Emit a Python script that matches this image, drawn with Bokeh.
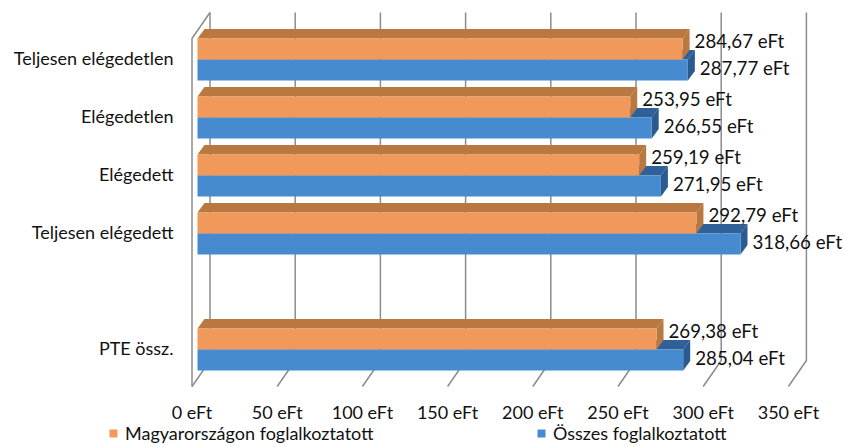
import math
from bokeh.plotting import figure
from bokeh.models import Range1d, Legend, LegendItem, ColumnDataSource
from bokeh.core.properties import value
from bokeh.embed import file_html
from bokeh.resources import INLINE

# ---------------- data ----------------
categories = ["Teljesen elégedetlen", "Elégedetlen", "Elégedett", "Teljesen elégedett", "", "PTE össz."]
magyar = [284.67, 253.95, 259.19, 292.79, None, 269.38]
osszes = [287.77, 266.55, 271.95, 318.66, None, 285.04]
series_names = ["Magyarországon foglalkoztatott", "Összes foglalkoztatott"]
tick_values = [0, 50, 100, 150, 200, 250, 300, 350]
tick_labels = ["0 eFt", "50 eFt", "100 eFt", "150 eFt", "200 eFt", "250 eFt", "300 eFt", "350 eFt"]

def fmt(v):
    return ("%.2f" % v).replace(".", ",") + " eFt"

# ---------------- styling / geometry ----------------
W, H = 845, 447
KX = 1.704            # pixels per value unit
KY = 58.0             # pixels per category slot
X0 = -197 / KX
Y1 = 59 / KY
PX = 1 / KX
PY = 1 / KY
FONT = "Lato"
ORANGE = "#F0995A"
ORANGE_DARK = "#B8783F"
BLUE = "#468BD0"
BLUE_TOP = "#2F609A"
BLUE_SIDE = "#2B5A90"
GRID = "#8C8C8C"
TEXT = "#111111"

def pyu(page_y):
    return Y1 - page_y * PY

p = figure(width=W, height=H, output_backend="svg", toolbar_location=None,
           x_range=Range1d(X0, X0 + W / KX), y_range=Range1d(Y1 - H / KY, Y1),
           min_border=0, min_border_left=0, min_border_right=0,
           min_border_top=0, min_border_bottom=0)
p.axis.visible = False
p.grid.visible = False
p.outline_line_color = None
p.background_fill_color = "white"

# back wall grid lines + floor lines
back_off = 12.5 * PX
floor_off = -18 * PX
gx, gy = [], []
for v in tick_values:
    gx.append([v + back_off, v + back_off, v + back_off + floor_off])
    gy.append([pyu(12), pyu(360), pyu(386)])
# left wall edge
gx.append([back_off + floor_off, back_off + floor_off, back_off])
gy.append([pyu(386), pyu(38), pyu(12)])
p.multi_line(gx, gy, line_color=GRID, line_width=1.5)

# bars (3D)
dx = 7 * PX
dy = 9.5 * PY
h = 21 * PY

def faces(vals, sign):
    front = dict(l=[], r=[], b=[], t=[])
    top_x, top_y, side_x, side_y = [], [], [], []
    for i, v in enumerate(vals):
        if v is None:
            continue
        yc = -i
        if sign > 0:
            b, t = yc, yc + h
        else:
            b, t = yc - h, yc
        front["l"].append(0); front["r"].append(v); front["b"].append(b); front["t"].append(t)
        top_x.append([0, v, v + dx, dx]); top_y.append([t, t, t + dy, t + dy])
        side_x.append([v, v, v + dx, v + dx]); side_y.append([b, t, t + dy, b + dy])
    return front, top_x, top_y, side_x, side_y

bf, btx, bty, bsx, bsy = faces(osszes, -1)
of, otx, oty, osx, osy = faces(magyar, +1)

p.patches(btx, bty, fill_color=BLUE_TOP, line_color=None)
p.patches(bsx, bsy, fill_color=BLUE_SIDE, line_color=None)
r_blue = p.quad(left="l", right="r", bottom="b", top="t", source=ColumnDataSource(bf),
                fill_color=BLUE, line_color=None)
p.patches(otx, oty, fill_color=ORANGE_DARK, line_color=None)
p.patches(osx, osy, fill_color=ORANGE_DARK, line_color=None)
r_orange = p.quad(left="l", right="r", bottom="b", top="t", source=ColumnDataSource(of),
                  fill_color=ORANGE, line_color=None)

# data labels
lx, ly, lt = [], [], []
for i, (a, b) in enumerate(zip(magyar, osszes)):
    if a is None:
        continue
    lx.append(a + 12 * PX); ly.append(-i + h - 2.5 * PY); lt.append(fmt(a))
    lx.append(b + 12 * PX); ly.append(-i - 8 * PY); lt.append(fmt(b))
p.text(lx, ly, text=lt, text_font=value(FONT), text_font_size="18.7px",
       text_align="left", text_baseline="middle", text_color=TEXT)

# category labels
cx, cy, ct = [], [], []
for i, c in enumerate(categories):
    if c:
        cx.append(-24 * PX); cy.append(-i + 1.5 * PY); ct.append(c)
p.text(cx, cy, text=ct, text_font=value(FONT), text_font_size="18px",
       text_align="right", text_baseline="middle", text_color=TEXT)

# value axis tick labels
p.text([v + back_off + floor_off for v in tick_values], [pyu(411)] * len(tick_values),
       text=tick_labels, text_font=value(FONT), text_font_size="18px",
       text_align="center", text_baseline="middle", text_color=TEXT)

# legends
for r, name, xloc in [(r_orange, series_names[0], 108), (r_blue, series_names[1], 536)]:
    lg = Legend(items=[LegendItem(label=name, renderers=[r])], location=(xloc, 3),
                orientation="horizontal", glyph_width=10, glyph_height=10,
                label_standoff=7, padding=0, margin=0, spacing=0,
                border_line_color=None, background_fill_alpha=0,
                label_text_font=FONT, label_text_font_size="18px",
                label_text_color=TEXT)
    p.add_layout(lg, "center")

open("out.html", "w").write(file_html(p, INLINE))
